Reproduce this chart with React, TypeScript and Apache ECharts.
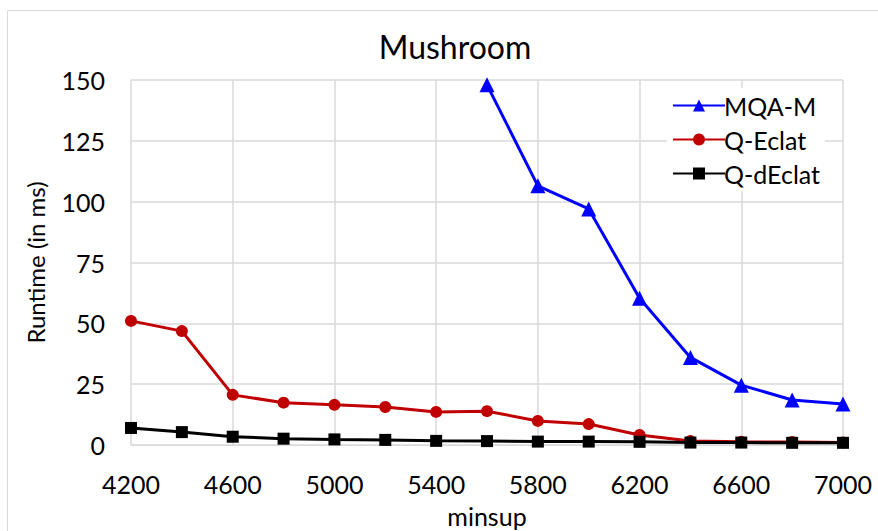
import React, { useEffect, useRef } from "react";
import * as echarts from "echarts";

const categories = ["4200","4400","4600","4800","5000","5200","5400","5600","5800","6000","6200","6400","6600","6800","7000"];
const mqaM = [null, null, null, null, null, null, null, 148, 106.5, 97, 60.3, 36, 24.6, 18.5, 16.8];
const qEclat = [51, 46.8, 20.6, 17.4, 16.5, 15.6, 13.6, 13.9, 9.9, 8.6, 4.1, 1.6, 1.3, 1.2, 1.0];
const qdEclat = [7, 5.3, 3.4, 2.6, 2.3, 2.1, 1.7, 1.6, 1.4, 1.4, 1.3, 1.0, 1.0, 0.9, 0.9];
const yTicks = [0, 25, 50, 75, 100, 125, 150];

const FONT = "Lato, 'Open Sans', sans-serif";

export default function App() {
  const ref = useRef<HTMLDivElement>(null);
  useEffect(() => {
    const chart = echarts.init(ref.current!, null, { renderer: "svg" });
    chart.setOption({
      animation: false,
      backgroundColor: "#ffffff",
      graphic: [
        {
          type: "rect",
          shape: { x: 7.5, y: 10.5, width: 880, height: 540 },
          style: { fill: "none", stroke: "#d9d9d9", lineWidth: 1 },
          silent: true,
        },
      ],
      title: {
        text: "Mushroom",
        left: 450,
        top: 25,
        textAlign: "center",
        textStyle: { fontFamily: FONT, fontSize: 32, fontWeight: "normal", color: "#000" },
      },
      legend: {
        orient: "vertical",
        left: 667,
        top: 88,
        itemGap: 9,
        itemWidth: 52,
        itemHeight: 15,
        textStyle: { fontFamily: FONT, fontSize: 25, color: "#000", padding: [0, 0, 0, -6] },
        data: ["MQA-M", "Q-Eclat", "Q-dEclat"],
        backgroundColor: "#ffffff",
      },
      grid: { left: 131, right: 35, top: 80, bottom: 86, containLabel: false, outerBoundsMode: "none" },
      xAxis: {
        type: "category",
        data: categories,
        boundaryGap: false,
        name: "minsup",
        nameLocation: "middle",
        nameGap: 58,
        nameTextStyle: { fontFamily: FONT, fontSize: 25, color: "#000" },
        axisLine: { lineStyle: { color: "#d9d9d9", width: 1 } },
        axisTick: { show: false },
        axisLabel: { interval: 1, fontFamily: FONT, fontSize: 25, color: "#000", margin: 26 },
        splitLine: { show: true, interval: 1, lineStyle: { color: "#d9d9d9", width: 1.5 } },
      },
      yAxis: {
        type: "value",
        min: yTicks[0],
        max: yTicks[yTicks.length - 1],
        interval: 25,
        name: "Runtime (in ms)",
        nameLocation: "middle",
        nameGap: 84,
        nameTextStyle: { fontFamily: FONT, fontSize: 24, color: "#000" },
        axisLine: { show: false },
        axisTick: { show: false },
        axisLabel: { fontFamily: FONT, fontSize: 25, color: "#000", margin: 26 },
        splitLine: { lineStyle: { color: "#d9d9d9", width: 1.5 } },
      },
      series: [
        {
          name: "MQA-M",
          type: "line",
          data: mqaM,
          symbol: "triangle",
          symbolSize: 15,
          lineStyle: { color: "#0000ff", width: 3 },
          itemStyle: { color: "#0000ff" },
          z: 3,
        },
        {
          name: "Q-Eclat",
          type: "line",
          data: qEclat,
          symbol: "circle",
          symbolSize: 12,
          lineStyle: { color: "#c00000", width: 3 },
          itemStyle: { color: "#c00000" },
          z: 2,
        },
        {
          name: "Q-dEclat",
          type: "line",
          data: qdEclat,
          symbol: "rect",
          symbolSize: 12,
          lineStyle: { color: "#000000", width: 3 },
          itemStyle: { color: "#000000" },
          z: 4,
        },
      ],
    });
    return () => chart.dispose();
  }, []);
  return <div ref={ref} style={{ position: "absolute", left: 0, top: 0, width: 878, height: 531 }} />;
}
